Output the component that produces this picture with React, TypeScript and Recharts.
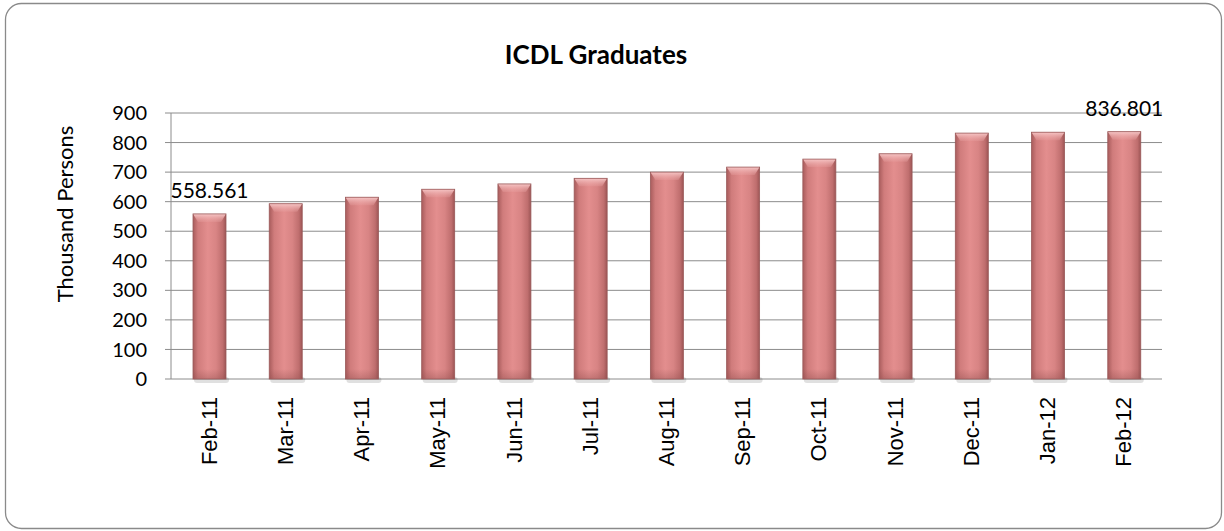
import React from 'react';
import { BarChart, Bar, XAxis, YAxis, CartesianGrid, LabelList } from 'recharts';

const months = ['Feb-11', 'Mar-11', 'Apr-11', 'May-11', 'Jun-11', 'Jul-11', 'Aug-11', 'Sep-11', 'Oct-11', 'Nov-11', 'Dec-11', 'Jan-12', 'Feb-12'];
const graduates = [558.561, 593, 615, 642, 660, 679, 700, 717, 744, 762, 832, 835, 836.801];
const shownLabels = ['558.561', '', '', '', '', '', '', '', '', '', '', '', '836.801'];
const yTicks = [0, 100, 200, 300, 400, 500, 600, 700, 800, 900];
const boundaryTicks = [0, 1, 2, 3, 4, 5, 6, 7, 8, 9, 10, 11, 12, 13];

const data = months.map((m, i) => ({ month: m, value: graduates[i], label: shownLabels[i], pos: i + 0.5 }));

const CAL = 'Lato, "Open Sans", sans-serif';
const ARIAL = '"Liberation Sans", Arial, sans-serif';
const GRID = '#8c8c8c';

const BarShape = (props: any) => {
  const { x, y, width, height } = props;
  if (!height || height <= 0) return null;
  const bev = Math.min(8, height / 2);
  return (
    <g>
      <rect x={x + 1} y={y + height - 2} width={width + 2} height={6} fill="#000" opacity={0.12} rx={3} />
      <rect x={x} y={y} width={width} height={height} fill="url(#barH)" />
      <rect x={x} y={y + height - 10} width={width} height={10} fill="url(#barBottom)" />
      <polygon
        points={`${x},${y} ${x + width},${y} ${x + width - 5},${y + bev} ${x + 5},${y + bev}`}
        fill="url(#barTop)"
      />
      <rect x={x} y={y} width={width} height={height} fill="none" stroke="#9a5a5a" strokeWidth={0.8} />
    </g>
  );
};

const XTick = (props: any) => {
  const { x, y, payload } = props;
  return (
    <g transform={`translate(${x},${y})`}>
      <text
        transform="rotate(-90)"
        textAnchor="end"
        dominantBaseline="central"
        fontFamily={ARIAL}
        fontSize={22}
        fill="#000"
      >
        {payload.value}
      </text>
    </g>
  );
};

const YTitle = () => (
  <text
    x={64}
    y={214}
    transform="rotate(-90, 64, 214)"
    textAnchor="middle"
    dominantBaseline="central"
    fontFamily={CAL}
    fontSize={22}
    fill="#000"
  >
    Thousand Persons
  </text>
);

export default function App() {
  return (
    <div style={{ position: 'absolute', left: 0, top: 0, width: 1224, height: 531, background: '#fff' }}>
      <svg width={1224} height={531} style={{ position: 'absolute', left: 0, top: 0 }}>
        <rect x={5.5} y={3.5} width={1216} height={525} rx={16} ry={16} fill="#fff" stroke="#8a8a8a" strokeWidth={1.3} />
        <text x={596} y={54} textAnchor="middle" dominantBaseline="central" fontFamily={CAL} fontWeight={700} fontSize={26} fill="#000">
          ICDL Graduates
        </text>
      </svg>
      <div style={{ position: 'absolute', left: 0, top: 0 }}>
        <BarChart
          width={1224}
          height={531}
          data={data}
          margin={{ top: 113, right: 62, left: 0, bottom: 52 }}
          barSize={33}
        >
          <defs>
            <linearGradient id="barH" x1="0" y1="0" x2="1" y2="0">
              <stop offset="0" stopColor="#a85c5c" />
              <stop offset="0.15" stopColor="#d07c7c" />
              <stop offset="0.45" stopColor="#e38e8e" />
              <stop offset="0.7" stopColor="#d88484" />
              <stop offset="0.9" stopColor="#bf6e6e" />
              <stop offset="1" stopColor="#9c5555" />
            </linearGradient>
            <linearGradient id="barTop" x1="0" y1="0" x2="0" y2="1">
              <stop offset="0" stopColor="#f6c6c6" />
              <stop offset="1" stopColor="#e8a0a0" stopOpacity={0.3} />
            </linearGradient>
            <linearGradient id="barBottom" x1="0" y1="0" x2="0" y2="1">
              <stop offset="0" stopColor="#8a4a4a" stopOpacity={0} />
              <stop offset="1" stopColor="#8a4a4a" stopOpacity={0.35} />
            </linearGradient>
          </defs>
          <CartesianGrid vertical={false} stroke={GRID} strokeWidth={1} />
          <XAxis
            xAxisId="bounds"
            dataKey="pos"
            type="number"
            domain={[0, 13]}
            ticks={boundaryTicks}
            interval={0}
            tick={() => <g />}
            tickLine={{ stroke: GRID }}
            axisLine={{ stroke: GRID }}
            tickSize={6}
            height={0}
            allowDataOverflow
          />
          <XAxis
            dataKey="month"
            xAxisId="cat"
            interval={0}
            tick={<XTick />}
            tickLine={false}
            axisLine={false}
            tickSize={6}
            tickMargin={12}
            height={100}
          />
          <YAxis
            domain={[0, 900]}
            ticks={yTicks}
            interval={0}
            width={171}
            tickSize={6}
            tickMargin={18}
            tickLine={{ stroke: GRID }}
            axisLine={{ stroke: GRID }}
            tick={{ fontFamily: CAL, fontSize: 20, fill: '#000' }}
            label={<YTitle />}
          />
          <Bar dataKey="value" xAxisId="cat" shape={<BarShape />} isAnimationActive={false}>
            <LabelList dataKey="label" position="top" offset={16} style={{ fontFamily: CAL, fontSize: 21, fill: '#000' }} />
          </Bar>
        </BarChart>
      </div>
    </div>
  );
}
